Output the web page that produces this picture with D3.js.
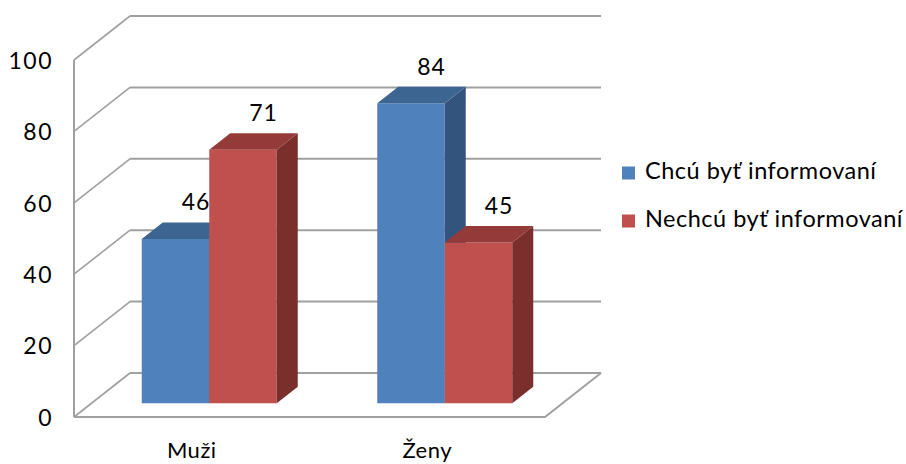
<!DOCTYPE html>
<html>
<head>
<meta charset="utf-8">
<script src="https://cdn.jsdelivr.net/npm/d3@7"></script>
<style>
  html, body { margin: 0; padding: 0; background: #fff; }
  svg { display: block; font-family: Lato, "Open Sans", "DejaVu Sans", sans-serif; }
</style>
</head>
<body>
<svg id="chart" width="906" height="464"></svg>
<script>
// Survey answers by gender (percent)
const categories = ["Muži", "Ženy"];
const seriesNames = ["Chcú byť informovaní", "Nechcú byť informovaní"];
const wantInfo = [46, 84];
const dontWantInfo = [71, 45];
const yTicks = [0, 20, 40, 60, 80, 100];

const seriesValues = [wantInfo, dontWantInfo];
const palette = [
  { front: "#4F81BD", top: "#3D6592", side: "#33547D" },
  { front: "#C0504D", top: "#943B39", side: "#7B2F2D" }
];

const svg = d3.select("#chart");

// 3D box: floor front-left corner, floor width, wall height, depth vector
const origin = { x: 74, y: 417 };
const floorW = 471;
const wallH = 357;
const depth = { x: 56, y: -44 };
const barDepthFront = 0.3125;
const barDepthBack = 0.6875;

const y = d3.scaleLinear().domain([0, 100]).range([0, wallH]);
const x = d3.scaleBand().domain(categories).range([0, floorW]).padding(0);
const xs = d3.scaleBand().domain(seriesNames).range([-67.5, 67.5]).padding(0);

// project (horizontal position on floor, value, depth fraction) to screen
function P(px, v, d) {
  return [origin.x + px + depth.x * d, origin.y - y(v) + depth.y * d];
}
const line = d3.line();

const grid = svg.append("g").attr("fill", "none").attr("stroke", "#A0A0A0");

// back wall and left wall gridlines
yTicks.forEach(t => {
  grid.append("path")
    .attr("d", line([P(0, t, 0), P(0, t, 1)]))
    .attr("stroke-width", 1.6);
  grid.append("path")
    .attr("d", line([P(0, t, 1), P(floorW, t, 1)]))
    .attr("stroke-width", 2);
});
// left wall front edge
grid.append("path")
  .attr("d", line([P(0, 0, 0), P(0, 100, 0)]))
  .attr("stroke-width", 2);
// floor front and right edges
grid.append("path")
  .attr("d", line([P(0, 0, 0), P(floorW, 0, 0), P(floorW, 0, 1)]))
  .attr("stroke-width", 2);

// y tick labels
svg.append("g")
  .selectAll("text")
  .data(yTicks)
  .join("text")
  .attr("x", 53)
  .attr("y", t => P(0, t, 0)[1] + 3)
  .attr("text-anchor", "end")
  .attr("dominant-baseline", "middle")
  .attr("font-size", 23)
  .attr("letter-spacing", 1.5)
  .attr("fill", "#000")
  .text(d => d);

// bars
const barsG = svg.append("g");
const labelsG = svg.append("g");
categories.forEach((c, ci) => {
  seriesNames.forEach((s, si) => {
    const v = seriesValues[si][ci];
    const cx = x(c) + x.bandwidth() / 2;
    const x0 = cx + xs(s);
    const x1 = x0 + xs.bandwidth();
    const df = barDepthFront, db = barDepthBack;
    const col = palette[si];
    const g = barsG.append("g");
    g.append("path")
      .attr("d", line([P(x0, 0, df), P(x1, 0, df), P(x1, v, df), P(x0, v, df)]) + "Z")
      .attr("fill", col.front);
    g.append("path")
      .attr("d", line([P(x1, 0, df), P(x1, 0, db), P(x1, v, db), P(x1, v, df)]) + "Z")
      .attr("fill", col.side);
    g.append("path")
      .attr("d", line([P(x0, v, df), P(x1, v, df), P(x1, v, db), P(x0, v, db)]) + "Z")
      .attr("fill", col.top);
    const top = P((x0 + x1) / 2, v, df);
    labelsG.append("text")
      .attr("x", top[0] + 20.5)
      .attr("y", top[1] - 34.5)
      .attr("text-anchor", "middle")
      .attr("dominant-baseline", "middle")
      .attr("font-size", 23)
      .attr("letter-spacing", 1)
      .attr("fill", "#000")
      .text(v);
  });
});

// category labels
svg.append("g")
  .selectAll("text")
  .data(categories)
  .join("text")
  .attr("x", c => P(x(c) + x.bandwidth() / 2, 0, 0)[0])
  .attr("y", 452)
  .attr("text-anchor", "middle")
  .attr("dominant-baseline", "middle")
  .attr("font-size", 22)
  .attr("letter-spacing", 0.5)
  .attr("fill", "#000")
  .text(c => c);

// legend
const legend = svg.append("g").attr("transform", "translate(622,173)");
seriesNames.forEach((s, i) => {
  const row = legend.append("g").attr("transform", `translate(0,${i * 48})`);
  row.append("rect")
    .attr("x", 0).attr("y", -6.5)
    .attr("width", 13).attr("height", 13)
    .attr("fill", palette[i].front);
  row.append("text")
    .attr("x", 23).attr("y", 0)
    .attr("dominant-baseline", "middle")
    .attr("font-size", 23.5)
    .attr("letter-spacing", 0.5)
    .attr("fill", "#000")
    .text(s);
});
</script>
</body>
</html>
